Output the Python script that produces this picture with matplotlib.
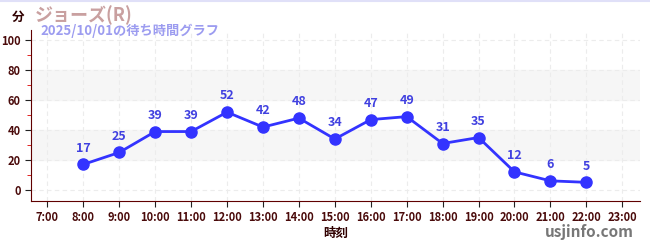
import matplotlib
matplotlib.use("Agg")
import matplotlib.pyplot as plt
from matplotlib.ticker import MultipleLocator

plt.rcParams['font.family'] = ['Noto Sans CJK JP', 'DejaVu Sans']

hours = [8, 9, 10, 11, 12, 13, 14, 15, 16, 17, 18, 19, 20, 21, 22]
waits = [17, 25, 39, 39, 52, 42, 48, 34, 47, 49, 31, 35, 12, 6, 5]
xticks = list(range(7, 24))
xlabels = ["%d:00" % h for h in xticks]
yticks = [0, 20, 40, 60, 80, 100]

dark = "#4a0a0a"
fig = plt.figure(figsize=(6.5, 2.5), dpi=100)
ax = fig.add_axes([0.048, 0.196, 0.937, 0.684])

# alternating bands
for lo in (20, 60):
    ax.axhspan(lo, lo + 20, color="#f6f6f6", zorder=0)

ax.plot(hours, waits, color="#3333ff", lw=2, marker="o", ms=8, zorder=3)
for h, w in zip(hours, waits):
    ax.annotate(str(w), (h, w), xytext=(0, 7), textcoords="offset points",
                ha="center", va="bottom", color="#4040e0", fontsize=9,
                fontweight="bold")

ax.set_xlim(6.55, 23.5)
ax.set_ylim(-7.5, 107)
ax.set_xticks(xticks)
ax.set_xticklabels(xlabels)
ax.set_yticks(yticks)
ax.yaxis.set_minor_locator(MultipleLocator(10))
ax.grid(which="major", color="#ececec", ls=(0, (4, 3)), lw=0.8, zorder=1)
ax.tick_params(which="major", length=4, color="#222222", labelsize=8,
               labelcolor=dark)
ax.tick_params(which="minor", length=3, color="#dd0000")
for lab in ax.get_xticklabels() + ax.get_yticklabels():
    lab.set_fontweight("bold")
for s in ("top", "right"):
    ax.spines[s].set_visible(False)
for s in ("left", "bottom"):
    ax.spines[s].set_color("#600000")

ax.set_xlabel("時刻", fontsize=9, fontweight="bold", color="#300000", labelpad=2)

fig.text(0.028, 0.93, "分", fontsize=9, fontweight="bold", color="#300000",
         ha="center", va="center")
fig.text(0.053, 0.94, "ジョーズ(R)", fontsize=13, fontweight="bold",
         color="#c9a0a0", va="center")
fig.text(0.062, 0.875, "2025/10/01の待ち時間グラフ", fontsize=9.5,
         fontweight="bold", color="#9c9cf0", va="center")
fig.text(0.975, 0.07, "usjinfo.com", fontsize=11, fontweight="bold",
         color="#777777", ha="right", va="center")

fig.add_artist(plt.Line2D([0, 1], [0.995, 0.995], color="#e0e0f8", lw=1.5,
                          transform=fig.transFigure))

fig.savefig("out.png", dpi=100)
